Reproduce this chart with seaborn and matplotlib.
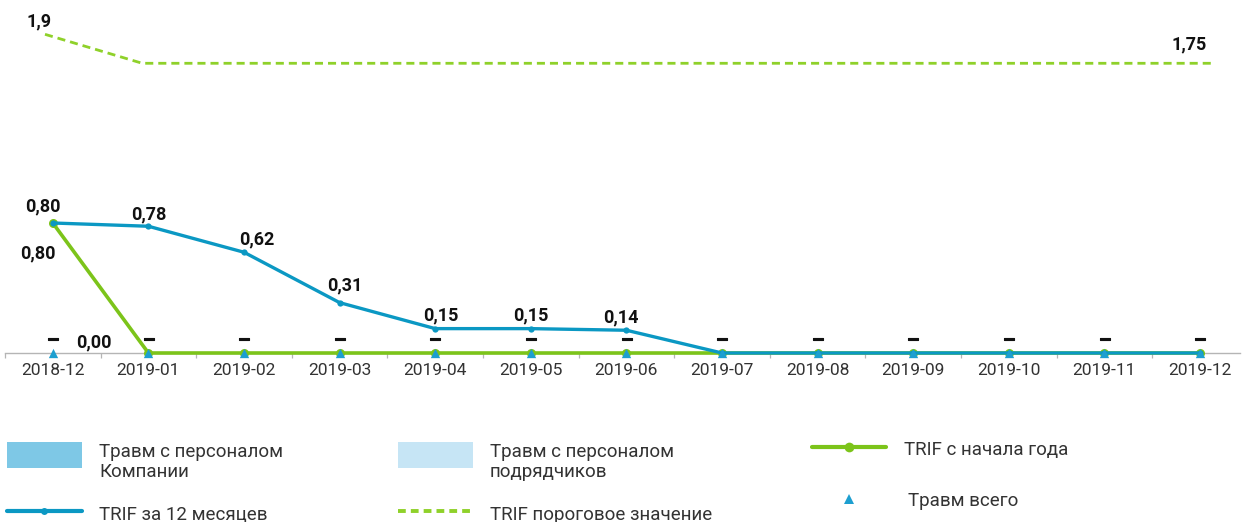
import numpy as np
import pandas as pd
import matplotlib
matplotlib.use("Agg")
import matplotlib.pyplot as plt
from matplotlib.patches import Rectangle
from matplotlib.lines import Line2D
import matplotlib.patheffects as pe
import seaborn as sns

# ---- data -------------------------------------------------------------
months = ["2018-12", "2019-01", "2019-02", "2019-03", "2019-04", "2019-05",
          "2019-06", "2019-07", "2019-08", "2019-09", "2019-10", "2019-11",
          "2019-12"]
injuries_staff = [0, 0, 0, 0, 0, 0, 0, 0, 0, 0, 0, 0, 0]
injuries_contractors = [0, 0, 0, 0, 0, 0, 0, 0, 0, 0, 0, 0, 0]
injuries_total = [0, 0, 0, 0, 0, 0, 0, 0, 0, 0, 0, 0, 0]
trif_12m = [0.80, 0.78, 0.62, 0.31, 0.15, 0.15, 0.14, 0, 0, 0, 0, 0, 0]
trif_ytd = [0.80, 0, 0, 0, 0, 0, 0, 0, 0, 0, 0, 0, 0]
trif_threshold = [1.9, 1.75, 1.75, 1.75, 1.75, 1.75, 1.75, 1.75, 1.75, 1.75,
                  1.75, 1.75, 1.75]

legend_labels = ["Травм с персоналом\nКомпании", "Травм с персоналом\nподрядчиков",
                 "TRIF с начала года", "TRIF за 12 месяцев",
                 "TRIF пороговое значение", "Травм всего"]

# ---- style ------------------------------------------------------------
sns.set_theme(style="white")
plt.rcParams["font.family"] = ["Roboto", "DejaVu Sans"]

C_STAFF = "#7ec8e6"
C_CONTR = "#c6e5f5"
C_BLUE = "#0b98c3"
C_GREEN = "#7cc41a"
C_THR = "#8fd12a"
C_TRI = "#1d9fd0"
C_LABEL = "#111111"
C_TICK = "#333333"

df = pd.DataFrame({
    "pos": np.arange(len(months)),
    "month": months,
    "staff": injuries_staff,
    "contractors": injuries_contractors,
    "total": injuries_total,
    "trif_12m": trif_12m,
    "trif_ytd": trif_ytd,
    "threshold": trif_threshold,
})


def fmt(v, digits=2):
    return f"{v:.{digits}f}".replace(".", ",")


W, H = 1244, 522
fig = plt.figure(figsize=(W / 100, H / 100), dpi=100)

rect = [5 / W, (H - 353) / H, (1240 - 5) / W, (353 - 15) / H]
ax = fig.add_axes(rect)
ax_thr = fig.add_axes(rect, facecolor="none")

# ---- main axis: injuries and TRIF -------------------------------------
ax.bar(df["pos"], df["staff"], width=0.6, color=C_STAFF)
ax.bar(df["pos"], df["contractors"], bottom=df["staff"], width=0.6, color=C_CONTR)

sns.lineplot(data=df, x="pos", y="trif_ytd", ax=ax, color=C_GREEN, linewidth=2.6,
             marker="o", markersize=6.5, markeredgewidth=0, clip_on=False, zorder=3)
sns.lineplot(data=df, x="pos", y="trif_12m", ax=ax, color=C_BLUE, linewidth=2.4,
             marker="o", markersize=4.5, markeredgewidth=0, clip_on=False, zorder=4)
sns.scatterplot(data=df, x="pos", y="total", ax=ax, color=C_TRI, marker="^",
                s=45, linewidth=0, clip_on=False, zorder=5)

ax.set_xticks(df["pos"])
ax.set_xticklabels(months)
ax.set_xticks(np.arange(-0.5, len(months) - 1, 1.0), minor=True)
ax.set_xlim(-0.5, (1240 - 53) / ((1200 - 53) / 12))
ax.set_ylim(0, 2.08)
ax.tick_params(axis="x", which="major", length=0, pad=7, labelsize=12.5,
               labelcolor=C_TICK)
ax.tick_params(axis="x", which="minor", length=3.6, width=0.9, color="#b5b5b5",
               bottom=True)
ax.set_yticks([])
ax.set_xlabel("")
ax.set_ylabel("")
for side in ("top", "left", "right"):
    ax.spines[side].set_visible(False)
ax.spines["bottom"].set_color("#b5b5b5")
ax.spines["bottom"].set_linewidth(1.0)

label_kw = dict(textcoords="offset pixels", ha="center", va="center",
                fontsize=13, fontweight="bold", color=C_LABEL, zorder=6)

# values of the 12-month TRIF above the line
blue_offsets = [(-10, 17), (0, 12), (13, 13), (5, 17), (6, 13), (0, 13), (-6, 13)]
k = 0
for i, v in enumerate(trif_12m):
    if v > 0:
        ax.annotate(fmt(v), (i, v), xytext=blue_offsets[k], **label_kw)
        k += 1

# values of the year-to-date TRIF
green_offsets = {0: (-15, -30), 1: (-55, 11)}
for i, off in green_offsets.items():
    ax.annotate(fmt(trif_ytd[i]), (i, trif_ytd[i]), xytext=off, **label_kw)

# injury counts (zero shown as a dash)
for i, v in enumerate(injuries_total):
    ax.annotate("—" if v == 0 else str(v), (i, v), xytext=(0, 13),
                textcoords="offset pixels", ha="center", va="center",
                fontsize=10.5, fontweight="black", color=C_LABEL, zorder=6,
                path_effects=[pe.withStroke(linewidth=0.8, foreground=C_LABEL)])

# ---- threshold on its own axis -----------------------------------------
sns.lineplot(data=df, x="pos", y="threshold", ax=ax_thr, color=C_THR,
             linewidth=2.0, linestyle=(0, (2.9, 1.8)), clip_on=False)
step = (1212 - 45) / 12
ax_thr.set_xlim((5 - 45) / step, (1240 - 45) / step)
ax_thr.set_ylim(0.25, 2.0)
ax_thr.set_axis_off()
last = len(trif_threshold) - 1
ax_thr.annotate(f"{trif_threshold[0]:g}".replace(".", ","), (0, trif_threshold[0]),
                xytext=(-6, 13), **label_kw)
ax_thr.annotate(f"{trif_threshold[last]:g}".replace(".", ","),
                (last, trif_threshold[last]), xytext=(-23, 19), **label_kw)

# ---- legend ------------------------------------------------------------
lg = fig.add_axes([0, 0, 1, 1], facecolor="none")
lg.set_xlim(0, W)
lg.set_ylim(H, 0)
lg.set_axis_off()

text_kw = dict(fontsize=13.5, color=C_TICK, va="baseline", ha="left",
               linespacing=1.12)
lg.add_patch(Rectangle((7, 442), 75, 26, color=C_STAFF, lw=0))
lg.text(99, 477, legend_labels[0], **text_kw)
lg.add_patch(Rectangle((398, 442), 75, 26, color=C_CONTR, lw=0))
lg.text(490, 477, legend_labels[1], **text_kw)

lg.add_line(Line2D([812, 886], [447, 447], color=C_GREEN, lw=3.0))
lg.add_line(Line2D([849], [447], color=C_GREEN, marker="o", markersize=7,
                   markeredgewidth=0))
lg.text(904, 455, legend_labels[2], **text_kw)

lg.add_line(Line2D([7, 82], [511, 511], color=C_BLUE, lw=3.0))
lg.add_line(Line2D([44], [511], color=C_BLUE, marker="o", markersize=5,
                   markeredgewidth=0))
lg.text(99, 520, legend_labels[3], **text_kw)

lg.add_line(Line2D([398, 473], [511, 511], color=C_THR, lw=2.8,
                   linestyle=(0, (2.0, 1.3))))
lg.text(490, 520, legend_labels[4], **text_kw)

lg.add_line(Line2D([849], [499], color=C_TRI, marker="^", markersize=7,
                   markeredgewidth=0, linestyle="none"))
lg.text(908, 506, legend_labels[5], **text_kw)

fig.savefig("out.png", dpi=100)
